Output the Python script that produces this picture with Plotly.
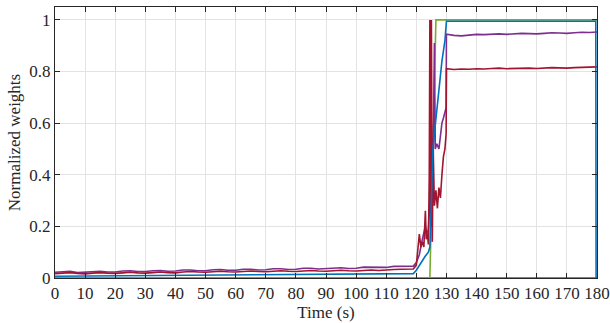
import plotly.graph_objects as go

# ---------------- data ----------------
t_early = [0, 2.5, 5, 7.5, 10, 12.5, 15, 17.5, 20, 22.5, 25, 27.5, 30, 32.5, 35, 37.5,
           40, 42.5, 45, 47.5, 50, 52.5, 55, 57.5, 60, 62.5, 65, 67.5, 70, 72.5, 75, 77.5,
           80, 82.5, 85, 87.5, 90, 92.5, 95, 97.5, 100, 102.5, 105, 107.5, 110, 112.5, 115, 117.5]

purple_early = [0.022, 0.025, 0.026, 0.021, 0.022, 0.025, 0.026, 0.023, 0.023, 0.027, 0.028, 0.025,
                0.025, 0.028, 0.029, 0.026, 0.027, 0.031, 0.031, 0.028, 0.028, 0.032, 0.033, 0.030,
                0.030, 0.034, 0.034, 0.031, 0.032, 0.036, 0.036, 0.033, 0.034, 0.038, 0.038, 0.035,
                0.036, 0.039, 0.040, 0.037, 0.038, 0.042, 0.042, 0.040, 0.041, 0.045, 0.046, 0.045]

red_early = [0.017, 0.018, 0.021, 0.018, 0.016, 0.019, 0.021, 0.019, 0.018, 0.020, 0.022, 0.020,
             0.019, 0.021, 0.023, 0.021, 0.020, 0.023, 0.025, 0.023, 0.022, 0.024, 0.026, 0.024,
             0.023, 0.025, 0.027, 0.025, 0.024, 0.026, 0.028, 0.026, 0.025, 0.027, 0.029, 0.027,
             0.026, 0.028, 0.030, 0.028, 0.027, 0.029, 0.031, 0.029, 0.032, 0.033, 0.034, 0.033]

t_trans_purple = [119, 120, 121, 122, 122.5, 123, 123.5, 124, 124.5, 125, 125.5, 126, 126.3,
                  126.8, 127.5, 128, 128.5, 129, 129.5, 129.9]
purple_trans = [0.046, 0.06, 0.09, 0.15, 0.17, 0.2, 0.17, 0.19, 0.3, 0.6, 0.35, 0.91, 0.5,
                0.52, 0.5, 0.55, 0.6, 0.62, 0.65, 0.66]

t_trans_red = [119, 120, 120.5, 121, 121.5, 122, 122.5, 123, 123.3, 123.7, 124, 124.3,
               124.5, 124.8, 125, 125.3, 125.6, 126, 126.5, 127, 127.5, 128, 128.5, 129, 129.5, 129.9]
red_trans = [0.035, 0.05, 0.1, 0.17, 0.12, 0.14, 0.12, 0.26, 0.15, 0.17, 0.13, 0.4,
             1.0, 0.2, 1.0, 0.14, 0.5, 0.28, 0.34, 0.27, 0.35, 0.31, 0.4, 0.47, 0.5, 0.56]

t_late = [130, 132.5, 135, 137.5, 140, 142.5, 145, 147.5, 150, 152.5, 155, 157.5, 160,
          162.5, 165, 167.5, 170, 172.5, 175, 177.5, 180]
purple_late = [0.945, 0.940, 0.938, 0.941, 0.944, 0.943, 0.945, 0.946, 0.944, 0.946, 0.948,
               0.947, 0.946, 0.948, 0.950, 0.949, 0.948, 0.950, 0.952, 0.951, 0.953]
red_late = [0.811, 0.808, 0.810, 0.809, 0.811, 0.810, 0.812, 0.813, 0.811, 0.812, 0.814,
            0.813, 0.812, 0.814, 0.815, 0.814, 0.813, 0.815, 0.816, 0.815, 0.818]

t_blue = [0, 10, 20, 30, 40, 50, 60, 70, 80, 90, 100, 110, 119, 120, 121, 122, 123, 124,
          124.5, 125, 125.5, 126, 126.5, 127, 127.5, 128, 128.5, 129, 129.5, 130, 179.6, 179.7, 180]
blue = [0.007, 0.008, 0.009, 0.009, 0.010, 0.011, 0.011, 0.012, 0.013, 0.014, 0.015, 0.016, 0.017,
        0.03, 0.05, 0.07, 0.085, 0.1, 0.12, 0.3, 0.5, 0.56, 0.62, 0.68, 0.72, 0.8, 0.84, 0.88,
        0.92, 0.995, 0.995, 0.0, 0.0]

t_blue0 = [0, 180]
blue0 = [0, 0]

t_green = [0, 124.5, 126.5, 180]
green = [0, 0, 1, 1]

x_ticks = list(range(0, 181, 10))
y_ticks = [0, 0.2, 0.4, 0.6, 0.8, 1]
y_ticklabels = ["0", "0.2", "0.4", "0.6", "0.8", "1"]

# ---------------- figure ----------------
C_BLUE = "#0072BD"
C_GREEN = "#77AC30"
C_PURPLE = "#7E2F8E"
C_RED = "#A2142F"
LW = 1.6

fig = go.Figure()
fig.add_trace(go.Scatter(x=t_blue0, y=blue0, mode="lines", line=dict(color=C_BLUE, width=LW)))
fig.add_trace(go.Scatter(x=t_green, y=green, mode="lines", line=dict(color=C_GREEN, width=LW)))
fig.add_trace(go.Scatter(x=t_early + t_trans_purple + t_late,
                         y=purple_early + purple_trans + purple_late,
                         mode="lines", line=dict(color=C_PURPLE, width=LW)))
fig.add_trace(go.Scatter(x=t_early + t_trans_red + t_late,
                         y=red_early + red_trans + red_late,
                         mode="lines", line=dict(color=C_RED, width=LW)))
fig.add_trace(go.Scatter(x=t_blue, y=blue, mode="lines", line=dict(color=C_BLUE, width=LW)))

font_family = "Liberation Serif"
FS = 17
fig.update_layout(
    width=610, height=323,
    margin=dict(l=55, r=13, t=7, b=45, autoexpand=False),
    paper_bgcolor="white", plot_bgcolor="white",
    showlegend=False,
    font=dict(family=font_family, size=FS, color="#262626"),
)
fig.update_xaxes(
    range=[0, 180], tickvals=x_ticks, ticks="inside", ticklen=5, tickcolor="#262626",
    showline=True, linecolor="#262626", linewidth=1, mirror="ticks", automargin=False,
    showgrid=True, gridcolor="#E3E3E3", gridwidth=1, zeroline=False,
    title=dict(text="Time (s)", standoff=2, font=dict(size=FS, family=font_family)),
    tickfont=dict(size=FS, family=font_family),
)
fig.update_yaxes(
    range=[0, 1.05], tickvals=y_ticks, ticktext=y_ticklabels, ticks="inside", ticklen=5,
    tickcolor="#262626", automargin=False,
    showline=True, linecolor="#262626", linewidth=1, mirror="ticks",
    showgrid=True, gridcolor="#E3E3E3", gridwidth=1, zeroline=False,
    title=dict(text="Normalized weights", standoff=4, font=dict(size=FS, family=font_family)),
    tickfont=dict(size=FS, family=font_family),
)

fig.write_html("out.html")
